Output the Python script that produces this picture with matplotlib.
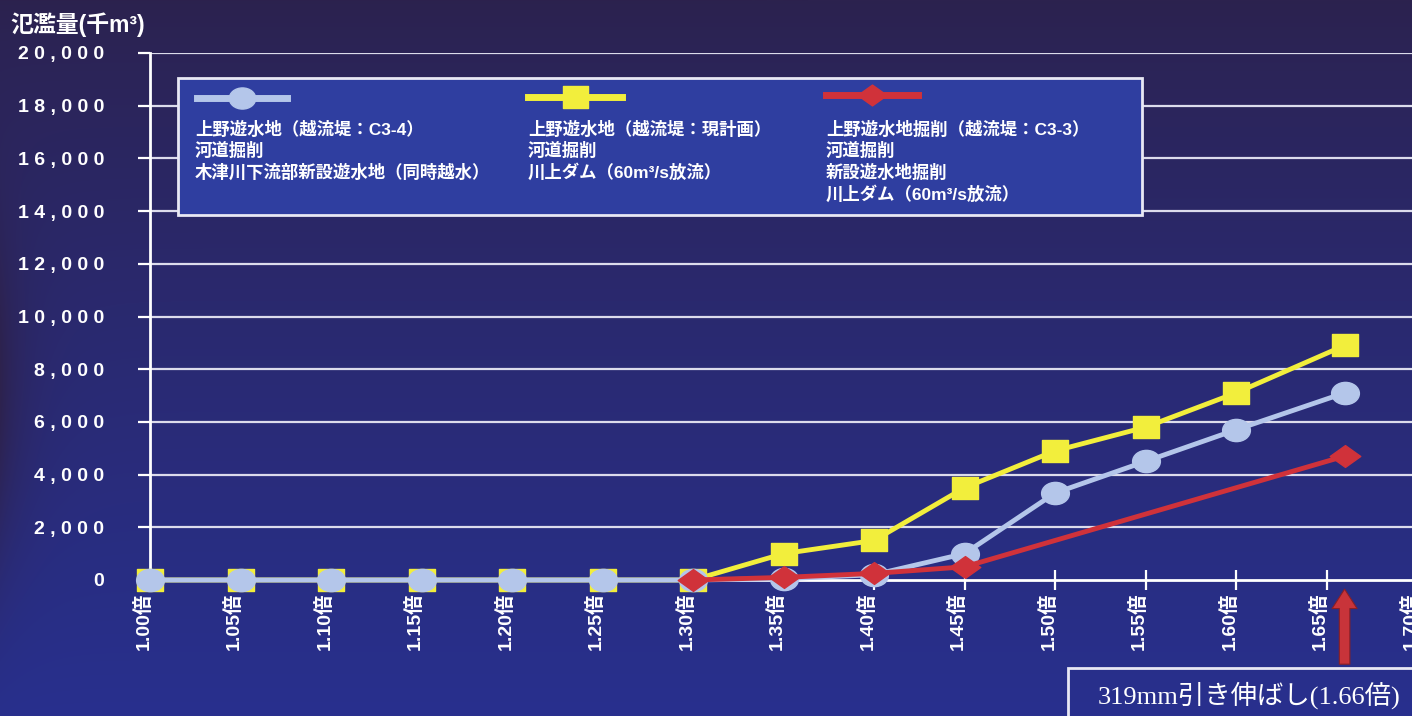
import numpy as np
import matplotlib.pyplot as plt
from matplotlib.patches import Rectangle
from matplotlib.lines import Line2D
from matplotlib.path import Path
from matplotlib.transforms import Affine2D, ScaledTranslation

plt.rcParams['font.family'] = ['Liberation Sans', 'Noto Sans CJK JP', 'DejaVu Sans']

W, H = 1412, 716

# 倍率 (x) and 氾濫量 (千m3)
ratios_a = [1.00, 1.05, 1.10, 1.15, 1.20, 1.25, 1.30, 1.35, 1.40, 1.45, 1.50, 1.55, 1.60, 1.66]
values_a = [0, 0, 0, 0, 0, 0, 0, 50, 200, 1000, 3300, 4500, 5700, 7100]

ratios_b = [1.00, 1.05, 1.10, 1.15, 1.20, 1.25, 1.30, 1.35, 1.40, 1.45, 1.50, 1.55, 1.60, 1.66]
values_b = [0, 0, 0, 0, 0, 0, 0, 1000, 1500, 3500, 4900, 5800, 7100, 8900]

ratios_c = [1.30, 1.35, 1.40, 1.45, 1.66]
values_c = [0, 100, 250, 500, 4700]

x_ticks = [1.00, 1.05, 1.10, 1.15, 1.20, 1.25, 1.30, 1.35, 1.40, 1.45, 1.50, 1.55, 1.60, 1.65, 1.70]
y_ticks = [0, 2000, 4000, 6000, 8000, 10000, 12000, 14000, 16000, 18000, 20000]

legend_a = ['上野遊水地（越流堤：C3-4）', '河道掘削', '木津川下流部新設遊水地（同時越水）']
legend_b = ['上野遊水地（越流堤：現計画）', '河道掘削', '川上ダム（60m³/s放流）']
legend_c = ['上野遊水地掘削（越流堤：C3-3）', '河道掘削', '新設遊水地掘削', '川上ダム（60m³/s放流）']

C_BLUE = '#b4c6ea'
C_YELLOW = '#f2ee3c'
C_RED = '#d0323a'
C_GRID = '#dcdcec'

# slightly flattened marker shapes
ELLIPSE = Path.unit_circle().transformed(Affine2D().scale(1.25, 1.0))
RECT = Path([(-1.15, -1), (1.15, -1), (1.15, 1), (-1.15, 1), (-1.15, -1)],
            [Path.MOVETO, Path.LINETO, Path.LINETO, Path.LINETO, Path.CLOSEPOLY])
DIAMOND = Path([(-1.4, 0), (0, 1), (1.4, 0), (0, -1), (-1.4, 0)],
               [Path.MOVETO, Path.LINETO, Path.LINETO, Path.LINETO, Path.CLOSEPOLY])


def px(x, y):
    return x / W, 1 - y / H


fig = plt.figure(figsize=(W / 100, H / 100), dpi=100)

# background: dark purple at the top fading to blue, darker at the left edge
bg = fig.add_axes([0, 0, 1, 1])
t = np.linspace(0, 1, H)[:, None]
s = np.linspace(0, 1, W)[None, :]
top = np.array([44, 34, 78]) / 255
bottom = np.array([40, 48, 142]) / 255
img = top + (bottom - top) * t[..., None] ** 0.8
img = img * np.ones((1, W, 1))
edge = np.exp(-s / 0.018)[..., None] * np.exp(-((t - 0.55) / 0.25) ** 2)[..., None]
img = img * (1 - 0.45 * edge) + np.array([0.25, 0.12, 0.15]) * 0.35 * edge
bg.imshow(np.clip(img, 0, 1), aspect='auto', extent=[0, 1, 0, 1])
bg.set_axis_off()

# x axis: 1.00 at 150px, about 1810px per unit, so 1.70 sits just past the right edge
x0, y0 = px(150, 580)
x1, y1 = px(150 + 0.70 * 1810, 53)
ax = fig.add_axes([x0, y0, x1 - x0, y1 - y0])
ax.patch.set_alpha(0)
ax.set_xlim(1.00, 1.70)
ax.set_ylim(0, 20000)

for y in y_ticks[1:]:
    ax.axhline(y, color=C_GRID, lw=1.6, zorder=1)

ax.plot(ratios_b, values_b, color=C_YELLOW, lw=3.5, marker=RECT, ms=19,
        mec=C_YELLOW, zorder=3, clip_on=False)
ax.plot(ratios_a, values_a, color=C_BLUE, lw=3.5, marker=ELLIPSE, ms=20,
        mec=C_BLUE, zorder=4, clip_on=False)
ax.plot(ratios_c, values_c, color=C_RED, lw=3.5, marker=DIAMOND, ms=22,
        mec=C_RED, zorder=5, clip_on=False)

for side in ['top', 'right']:
    ax.spines[side].set_visible(False)
for side in ['left', 'bottom']:
    ax.spines[side].set_color('white')
    ax.spines[side].set_linewidth(2)

ax.set_yticks(y_ticks)
ax.set_yticklabels([' '.join(f'{v:,}') for v in y_ticks],
                   fontsize=14, fontweight='bold', color='white')
ax.set_xticks(x_ticks)
ax.set_xticklabels([f'{v:.2f}倍' for v in x_ticks], rotation=90,
                   fontsize=14, fontweight='bold', color='white')
ax.tick_params(axis='y', colors='white', length=9, width=1.6, direction='out', pad=24)
ax.tick_params(axis='x', colors='white', length=14, width=1.6, direction='inout', pad=2)

# tick labels sit a little to the left of their ticks
shift = ScaledTranslation(-7 / 100, 0, fig.dpi_scale_trans)
for lab in ax.get_xticklabels():
    lab.set_transform(lab.get_transform() + shift)

fig.text(*px(10, 25), '氾濫量(千m³)', fontsize=16.5, fontweight='bold',
         color='white', va='center', ha='left')

# legend panel
lx, ly = px(178, 215)
lx2, ly2 = px(1142, 78)
fig.patches.append(Rectangle((lx, ly), lx2 - lx, ly2 - ly, transform=fig.transFigure,
                             facecolor='#2f3ea0', edgecolor='#e8e8f4', lw=2, zorder=5))

entries = [
    (C_BLUE, ELLIPSE, 19, 197, 287, 98, 195, legend_a),
    (C_YELLOW, RECT, 18, 528, 622, 97, 528, legend_b),
    (C_RED, DIAMOND, 21, 826, 918, 95, 826, legend_c),
]
for color, mk, ms, xa, xb, yl, xt, lines in entries:
    (ax_a, ay), (ax_b, _) = px(xa, yl), px(xb, yl)
    fig.lines.append(Line2D([ax_a, ax_b], [ay, ay], transform=fig.transFigure,
                            color=color, lw=5, zorder=6))
    fig.lines.append(Line2D([(ax_a + ax_b) / 2], [ay], transform=fig.transFigure,
                            marker=mk, ms=ms, color=color, mec=color, zorder=7))
    for i, line in enumerate(lines):
        fig.text(*px(xt, 129 + 21.5 * i), line, fontsize=12.5, fontweight='bold',
                 color='white', va='center', ha='left', zorder=8)

# arrow marking 1.66倍
ax.annotate('', xy=(1.66, -0.012), xytext=(1.66, -0.165),
            xycoords=ax.get_xaxis_transform(), textcoords=ax.get_xaxis_transform(),
            arrowprops=dict(arrowstyle='simple,head_length=0.7,head_width=0.9,tail_width=0.38',
                            mutation_scale=20, facecolor='#c8343a', edgecolor='#8a1f24', lw=0.8))

bx, by = px(1068, 740)
bx2, by2 = px(1430, 668)
fig.patches.append(Rectangle((bx, by), bx2 - bx, by2 - by, transform=fig.transFigure,
                             facecolor='none', edgecolor='#e8e8f4', lw=2, zorder=5))
fig.text(*px(1098, 695), '319mm引き伸ばし(1.66倍)', fontsize=19, color='white',
         family=['Liberation Serif', 'Noto Sans CJK JP'], va='center', ha='left')

fig.savefig('out.png', dpi=100)
